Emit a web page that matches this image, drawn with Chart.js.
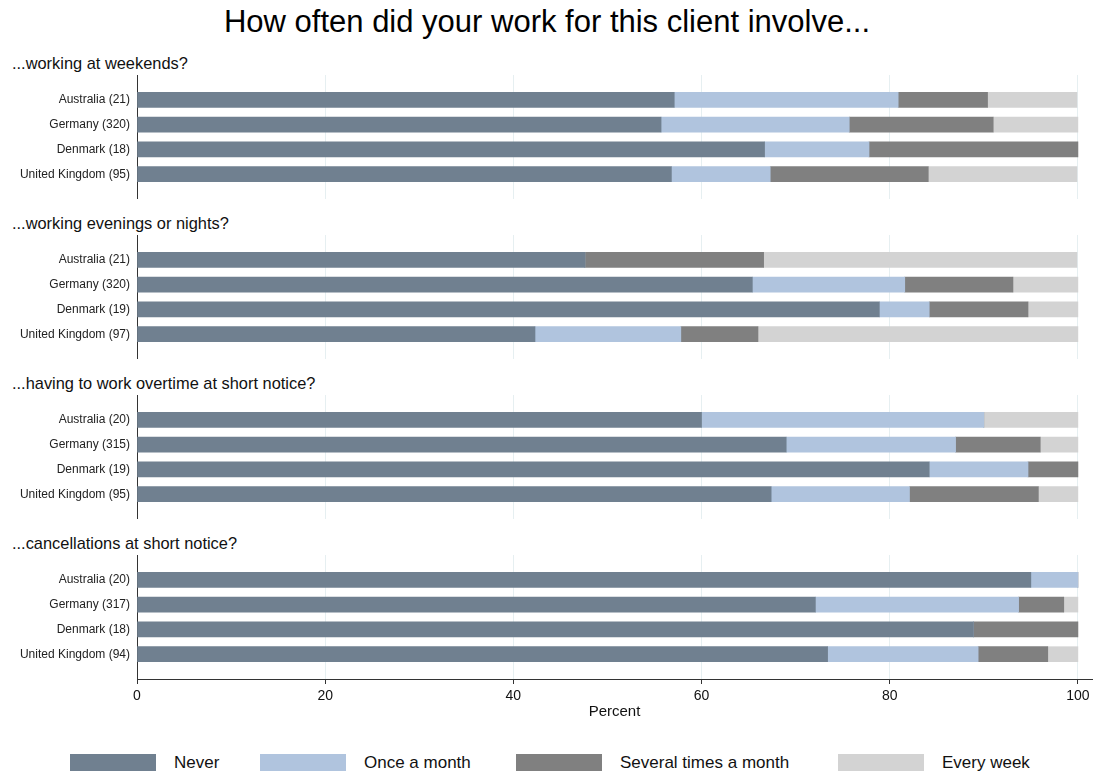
<!DOCTYPE html>
<html>
<head>
<meta charset="utf-8">
<script src="https://cdn.jsdelivr.net/npm/chart.js@4.4.1/dist/chart.umd.min.js"></script>
<style>
    body { margin: 0; background: #fff; font-family: 'Liberation Sans', Arial, sans-serif; }
    #page { position: relative; width: 1094px; height: 771px; overflow: hidden; }
    #page canvas { position: absolute; left: 0; }
    .title { position: absolute; top: 4px; left: 0; width: 1094px; text-align: center; font-size: 31px; line-height: 36px; color: #000; }
    .heading { position: absolute; left: 12px; font-size: 16.4px; line-height: 18px; color: #111; }
    .legend-item { position: absolute; top: 754px; height: 17px; display: flex; align-items: center; }
    .legend-box { width: 86px; height: 20px; margin-right: 18px; align-self: flex-start; }
    .legend-text { font-size: 17px; color: #111; white-space: nowrap; }
</style>
</head>
<body>
<div id="page">
    <div class="title">How often did your work for this client involve...</div>
</div>

<script>
// series names + colours
const seriesNames = ['Never', 'Once a month', 'Several times a month', 'Every week'];
const seriesColors = ['#708090', '#b0c4de', '#808080', '#d3d3d3'];

// x axis
const xTicks = [0, 20, 40, 60, 80, 100];
const xTitle = 'Percent';

// panel headings
const headings = [
    '...working at weekends?',
    '...working evenings or nights?',
    '...having to work overtime at short notice?',
    '...cancellations at short notice?'
];

// country labels (with n) per panel
const labelsWeekends = ['Australia (21)', 'Germany (320)', 'Denmark (18)', 'United Kingdom (95)'];
const labelsEvenings = ['Australia (21)', 'Germany (320)', 'Denmark (19)', 'United Kingdom (97)'];
const labelsOvertime = ['Australia (20)', 'Germany (315)', 'Denmark (19)', 'United Kingdom (95)'];
const labelsCancel   = ['Australia (20)', 'Germany (317)', 'Denmark (18)', 'United Kingdom (94)'];

// percentages: Australia, Germany, Denmark, United Kingdom
const weekendsNever   = [57.1, 55.7, 66.7, 56.8];
const weekendsOnce    = [23.8, 20.0, 11.1, 10.5];
const weekendsSeveral = [9.5, 15.3, 22.2, 16.8];
const weekendsWeekly  = [9.5, 9.0, 0, 15.8];

const eveningsNever   = [47.6, 65.4, 78.9, 42.3];
const eveningsOnce    = [0, 16.2, 5.3, 15.5];
const eveningsSeveral = [19.0, 11.5, 10.5, 8.2];
const eveningsWeekly  = [33.3, 6.9, 5.3, 34.0];

const overtimeNever   = [60.0, 69.0, 84.2, 67.4];
const overtimeOnce    = [30.0, 18.0, 10.5, 14.7];
const overtimeSeveral = [0, 9.0, 5.3, 13.7];
const overtimeWeekly  = [10.0, 4.0, 0, 4.2];

const cancelNever   = [95.0, 72.1, 88.9, 73.4];
const cancelOnce    = [5.0, 21.6, 0, 16.0];
const cancelSeveral = [0, 4.8, 11.1, 7.4];
const cancelWeekly  = [0, 1.5, 0, 3.2];

const panels = [
    { labels: labelsWeekends, series: [weekendsNever, weekendsOnce, weekendsSeveral, weekendsWeekly] },
    { labels: labelsEvenings, series: [eveningsNever, eveningsOnce, eveningsSeveral, eveningsWeekly] },
    { labels: labelsOvertime, series: [overtimeNever, overtimeOnce, overtimeSeveral, overtimeWeekly] },
    { labels: labelsCancel,   series: [cancelNever, cancelOnce, cancelSeveral, cancelWeekly] }
];

Chart.defaults.font.family = "'Liberation Sans', Arial, sans-serif";
Chart.defaults.color = '#222';

const page = document.getElementById('page');
const panelTop = [75, 235, 395, 555];
const panelHeight = 124;
const axisHeight = 42;
const xMax = 101.5;

panels.forEach((panel, p) => {

    let h = document.createElement('div');
    h.className = 'heading';
    h.style.top = (panelTop[p] - 21) + 'px';
    h.textContent = headings[p];
    page.appendChild(h);

    let isLast = p === panels.length - 1;
    let canvas = document.createElement('canvas');
    canvas.width = 1094;
    canvas.height = panelHeight + (isLast ? axisHeight : 0);
    canvas.style.top = panelTop[p] + 'px';
    page.appendChild(canvas);

    // blank slot at each end so the bars sit inside the panel
    let labels = [''].concat(panel.labels, ['']);

    let datasets = panel.series.map((values, i) => ({
        label: seriesNames[i],
        data: [null].concat(values, [null]),
        backgroundColor: seriesColors[i],
        borderWidth: 0,
        barThickness: 15
    }));

    new Chart(canvas, {
        type: 'bar',
        data: { labels: labels, datasets: datasets },
        options: {
            indexAxis: 'y',
            responsive: false,
            animation: false,
            layout: { padding: { left: 0, right: 2, top: 0, bottom: 0 } },
            plugins: {
                legend: { display: false },
                tooltip: { enabled: false }
            },
            scales: {
                x: {
                    stacked: true,
                    min: 0,
                    max: xMax,
                    afterBuildTicks: (scale) => {
                        scale.ticks = xTicks.map(v => ({ value: v }));
                    },
                    afterFit: (scale) => {
                        scale.height = isLast ? axisHeight : 0;
                        scale.paddingLeft = 0;
                        scale.paddingRight = 0;
                    },
                    grid: {
                        color: '#e6eff1',
                        lineWidth: 1,
                        drawTicks: isLast,
                        tickLength: 5,
                        tickColor: '#333'
                    },
                    border: { display: isLast, color: '#333', width: 1 },
                    ticks: {
                        display: isLast,
                        padding: 4,
                        color: '#111',
                        font: { size: 14 }
                    },
                    title: {
                        display: isLast,
                        text: xTitle,
                        color: '#111',
                        font: { size: 15 },
                        padding: 0
                    }
                },
                y: {
                    stacked: true,
                    offset: false,
                    afterFit: (scale) => {
                        scale.width = 137;
                        scale.paddingTop = 0;
                        scale.paddingBottom = 0;
                    },
                    grid: { display: false, drawTicks: false },
                    border: { display: true, color: '#333', width: 1 },
                    ticks: {
                        autoSkip: false,
                        padding: 7,
                        color: '#222',
                        font: { size: 12 }
                    }
                }
            }
        }
    });
});

// legend below the panels
const legendLeft = [70, 260, 516, 838];
seriesNames.forEach((name, i) => {
    let item = document.createElement('div');
    item.className = 'legend-item';
    item.style.left = legendLeft[i] + 'px';
    item.innerHTML = '<div class="legend-box" style="background:' + seriesColors[i] + '"></div>' +
                     '<span class="legend-text">' + name + '</span>';
    page.appendChild(item);
});
</script>
</body>
</html>
